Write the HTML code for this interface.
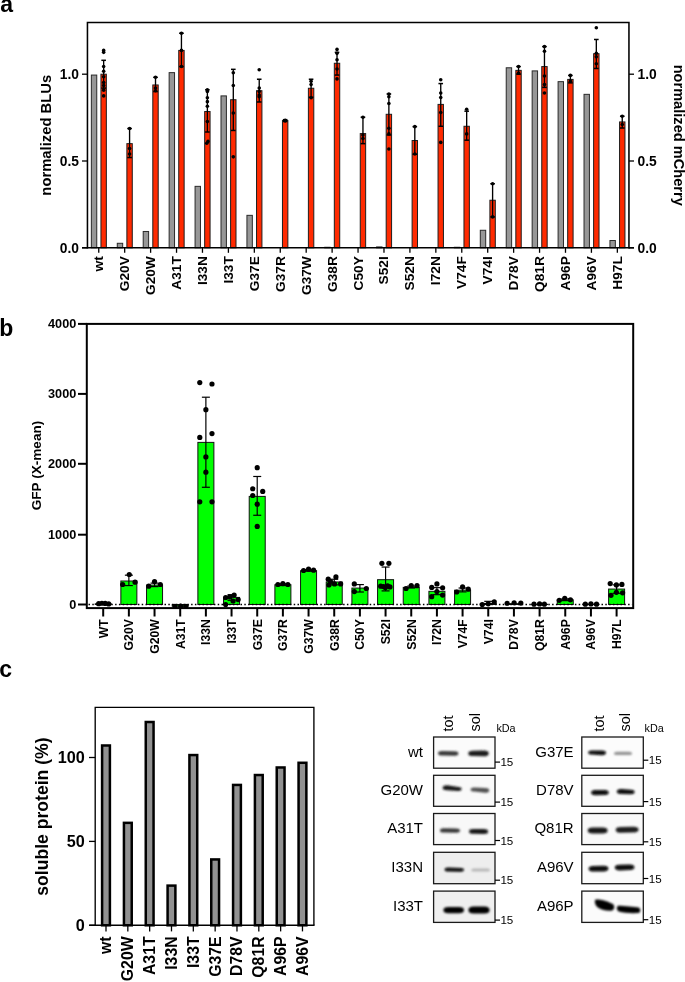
<!DOCTYPE html>
<html><head><meta charset="utf-8"><style>
html,body{margin:0;padding:0;background:#fff;overflow:hidden;}
svg{display:block;font-family:"Liberation Sans",sans-serif;will-change:transform;filter:blur(0.35px);}
</style></head><body>
<svg width="685" height="982" viewBox="0 0 685 982">
<rect x="0" y="0" width="685" height="982" fill="#fff"/>
<rect x="91.35" y="75.07" width="5.4" height="172.73" fill="#979797" stroke="#2a2a2a" stroke-width="1" />
<rect x="100.95" y="74.2" width="5.4" height="173.6" fill="#ff2a00" stroke="#1e1e1e" stroke-width="1" />
<rect x="117.28" y="243.29" width="5.4" height="4.51" fill="#979797" stroke="#2a2a2a" stroke-width="1" />
<rect x="126.88" y="143.64" width="5.4" height="104.16" fill="#ff2a00" stroke="#1e1e1e" stroke-width="1" />
<rect x="143.21" y="231.48" width="5.4" height="16.32" fill="#979797" stroke="#2a2a2a" stroke-width="1" />
<rect x="152.81" y="84.96" width="5.4" height="162.84" fill="#ff2a00" stroke="#1e1e1e" stroke-width="1" />
<rect x="169.14" y="72.64" width="5.4" height="175.16" fill="#979797" stroke="#2a2a2a" stroke-width="1" />
<rect x="178.74" y="50.42" width="5.4" height="197.38" fill="#ff2a00" stroke="#1e1e1e" stroke-width="1" />
<rect x="195.07" y="186.35" width="5.4" height="61.45" fill="#979797" stroke="#2a2a2a" stroke-width="1" />
<rect x="204.67" y="111.52" width="5.4" height="136.28" fill="#ff2a00" stroke="#1e1e1e" stroke-width="1" />
<rect x="221" y="95.9" width="5.4" height="151.9" fill="#979797" stroke="#2a2a2a" stroke-width="1" />
<rect x="230.6" y="99.72" width="5.4" height="148.08" fill="#ff2a00" stroke="#1e1e1e" stroke-width="1" />
<rect x="246.93" y="215.34" width="5.4" height="32.46" fill="#979797" stroke="#2a2a2a" stroke-width="1" />
<rect x="256.53" y="90.69" width="5.4" height="157.11" fill="#ff2a00" stroke="#1e1e1e" stroke-width="1" />
<rect x="282.46" y="120.55" width="5.4" height="127.25" fill="#ff2a00" stroke="#1e1e1e" stroke-width="1" />
<rect x="308.39" y="88.26" width="5.4" height="159.54" fill="#ff2a00" stroke="#1e1e1e" stroke-width="1" />
<rect x="324.72" y="247.28" width="5.4" height="0.52" fill="#979797" stroke="#2a2a2a" stroke-width="1" />
<rect x="334.32" y="63.26" width="5.4" height="184.54" fill="#ff2a00" stroke="#1e1e1e" stroke-width="1" />
<rect x="360.25" y="133.57" width="5.4" height="114.23" fill="#ff2a00" stroke="#1e1e1e" stroke-width="1" />
<rect x="376.58" y="246.93" width="5.4" height="0.87" fill="#979797" stroke="#2a2a2a" stroke-width="1" />
<rect x="386.18" y="114.3" width="5.4" height="133.5" fill="#ff2a00" stroke="#1e1e1e" stroke-width="1" />
<rect x="412.11" y="140.52" width="5.4" height="107.28" fill="#ff2a00" stroke="#1e1e1e" stroke-width="1" />
<rect x="438.04" y="104.41" width="5.4" height="143.39" fill="#ff2a00" stroke="#1e1e1e" stroke-width="1" />
<rect x="454.37" y="247.28" width="5.4" height="0.52" fill="#979797" stroke="#2a2a2a" stroke-width="1" />
<rect x="463.97" y="126.28" width="5.4" height="121.52" fill="#ff2a00" stroke="#1e1e1e" stroke-width="1" />
<rect x="480.3" y="230.27" width="5.4" height="17.53" fill="#979797" stroke="#2a2a2a" stroke-width="1" />
<rect x="489.9" y="200.23" width="5.4" height="47.57" fill="#ff2a00" stroke="#1e1e1e" stroke-width="1" />
<rect x="506.23" y="67.78" width="5.4" height="180.02" fill="#979797" stroke="#2a2a2a" stroke-width="1" />
<rect x="515.83" y="70.38" width="5.4" height="177.42" fill="#ff2a00" stroke="#1e1e1e" stroke-width="1" />
<rect x="532.16" y="70.9" width="5.4" height="176.9" fill="#979797" stroke="#2a2a2a" stroke-width="1" />
<rect x="541.76" y="66.56" width="5.4" height="181.24" fill="#ff2a00" stroke="#1e1e1e" stroke-width="1" />
<rect x="558.09" y="81.66" width="5.4" height="166.14" fill="#979797" stroke="#2a2a2a" stroke-width="1" />
<rect x="567.69" y="79.41" width="5.4" height="168.39" fill="#ff2a00" stroke="#1e1e1e" stroke-width="1" />
<rect x="584.02" y="94.34" width="5.4" height="153.46" fill="#979797" stroke="#2a2a2a" stroke-width="1" />
<rect x="593.62" y="53.72" width="5.4" height="194.08" fill="#ff2a00" stroke="#1e1e1e" stroke-width="1" />
<rect x="609.95" y="240.51" width="5.4" height="7.29" fill="#979797" stroke="#2a2a2a" stroke-width="1" />
<rect x="619.55" y="121.94" width="5.4" height="125.86" fill="#ff2a00" stroke="#1e1e1e" stroke-width="1" />
<line x1="103.65" y1="60.31" x2="103.65" y2="88.09" stroke="#000" stroke-width="1.35" />
<line x1="101.35" y1="60.31" x2="105.95" y2="60.31" stroke="#000" stroke-width="1.5" />
<line x1="101.35" y1="88.09" x2="105.95" y2="88.09" stroke="#000" stroke-width="1.5" />
<circle cx="103.65" cy="50.42" r="1.8" fill="#000"/>
<circle cx="103.65" cy="52.33" r="1.8" fill="#000"/>
<circle cx="103.65" cy="66.56" r="1.8" fill="#000"/>
<circle cx="103.65" cy="71.25" r="1.8" fill="#000"/>
<circle cx="103.65" cy="76.8" r="1.8" fill="#000"/>
<circle cx="103.65" cy="82.53" r="1.8" fill="#000"/>
<circle cx="103.65" cy="85.48" r="1.8" fill="#000"/>
<circle cx="103.65" cy="90.17" r="1.8" fill="#000"/>
<circle cx="103.65" cy="95.9" r="1.8" fill="#000"/>
<line x1="129.58" y1="128.54" x2="129.58" y2="157.53" stroke="#000" stroke-width="1.35" />
<line x1="127.28" y1="128.54" x2="131.88" y2="128.54" stroke="#000" stroke-width="1.5" />
<line x1="127.28" y1="157.53" x2="131.88" y2="157.53" stroke="#000" stroke-width="1.5" />
<circle cx="129.58" cy="128.54" r="1.8" fill="#000"/>
<circle cx="129.58" cy="148.5" r="1.8" fill="#000"/>
<circle cx="129.58" cy="154.06" r="1.8" fill="#000"/>
<line x1="155.51" y1="77.32" x2="155.51" y2="91.56" stroke="#000" stroke-width="1.35" />
<line x1="153.21" y1="77.32" x2="157.81" y2="77.32" stroke="#000" stroke-width="1.5" />
<line x1="153.21" y1="91.56" x2="157.81" y2="91.56" stroke="#000" stroke-width="1.5" />
<circle cx="155.51" cy="77.32" r="1.8" fill="#000"/>
<circle cx="155.51" cy="88.09" r="1.8" fill="#000"/>
<circle cx="155.51" cy="90.69" r="1.8" fill="#000"/>
<line x1="181.44" y1="33.23" x2="181.44" y2="66.56" stroke="#000" stroke-width="1.35" />
<line x1="179.14" y1="33.23" x2="183.74" y2="33.23" stroke="#000" stroke-width="1.5" />
<line x1="179.14" y1="66.56" x2="183.74" y2="66.56" stroke="#000" stroke-width="1.5" />
<circle cx="181.44" cy="33.23" r="1.8" fill="#000"/>
<circle cx="181.44" cy="50.42" r="1.8" fill="#000"/>
<circle cx="181.44" cy="66.56" r="1.8" fill="#000"/>
<line x1="207.37" y1="89.82" x2="207.37" y2="132.01" stroke="#000" stroke-width="1.35" />
<line x1="205.07" y1="89.82" x2="209.67" y2="89.82" stroke="#000" stroke-width="1.5" />
<line x1="205.07" y1="132.01" x2="209.67" y2="132.01" stroke="#000" stroke-width="1.5" />
<circle cx="207.37" cy="89.82" r="1.8" fill="#000"/>
<circle cx="207.37" cy="91.56" r="1.8" fill="#000"/>
<circle cx="207.37" cy="97.81" r="1.8" fill="#000"/>
<circle cx="207.37" cy="101.63" r="1.8" fill="#000"/>
<circle cx="207.37" cy="106.32" r="1.8" fill="#000"/>
<circle cx="207.37" cy="121.59" r="1.8" fill="#000"/>
<circle cx="207.97" cy="141.38" r="1.8" fill="#000"/>
<circle cx="206.77" cy="143.29" r="1.8" fill="#000"/>
<line x1="233.3" y1="69.34" x2="233.3" y2="130.45" stroke="#000" stroke-width="1.35" />
<line x1="231" y1="69.34" x2="235.6" y2="69.34" stroke="#000" stroke-width="1.5" />
<line x1="231" y1="130.45" x2="235.6" y2="130.45" stroke="#000" stroke-width="1.5" />
<circle cx="233.3" cy="72.81" r="1.8" fill="#000"/>
<circle cx="233.3" cy="85.48" r="1.8" fill="#000"/>
<circle cx="233.3" cy="113.09" r="1.8" fill="#000"/>
<circle cx="233.3" cy="156.83" r="1.8" fill="#000"/>
<line x1="259.23" y1="79.23" x2="259.23" y2="101.98" stroke="#000" stroke-width="1.35" />
<line x1="256.93" y1="79.23" x2="261.53" y2="79.23" stroke="#000" stroke-width="1.5" />
<line x1="256.93" y1="101.98" x2="261.53" y2="101.98" stroke="#000" stroke-width="1.5" />
<circle cx="259.23" cy="69.69" r="1.8" fill="#000"/>
<circle cx="259.23" cy="88.09" r="1.8" fill="#000"/>
<circle cx="259.23" cy="91.56" r="1.8" fill="#000"/>
<circle cx="259.23" cy="95.03" r="1.8" fill="#000"/>
<circle cx="259.23" cy="96.77" r="1.8" fill="#000"/>
<line x1="285.16" y1="119.68" x2="285.16" y2="121.42" stroke="#000" stroke-width="1.35" />
<line x1="282.86" y1="119.68" x2="287.46" y2="119.68" stroke="#000" stroke-width="1.5" />
<line x1="282.86" y1="121.42" x2="287.46" y2="121.42" stroke="#000" stroke-width="1.5" />
<circle cx="285.16" cy="120.2" r="1.8" fill="#000"/>
<circle cx="285.16" cy="121.07" r="1.8" fill="#000"/>
<line x1="311.09" y1="79.23" x2="311.09" y2="97.29" stroke="#000" stroke-width="1.35" />
<line x1="308.79" y1="79.23" x2="313.39" y2="79.23" stroke="#000" stroke-width="1.5" />
<line x1="308.79" y1="97.29" x2="313.39" y2="97.29" stroke="#000" stroke-width="1.5" />
<circle cx="311.09" cy="81.14" r="1.8" fill="#000"/>
<circle cx="311.09" cy="84.62" r="1.8" fill="#000"/>
<circle cx="311.09" cy="97.81" r="1.8" fill="#000"/>
<line x1="337.02" y1="52.33" x2="337.02" y2="75.07" stroke="#000" stroke-width="1.35" />
<line x1="334.72" y1="52.33" x2="339.32" y2="52.33" stroke="#000" stroke-width="1.5" />
<line x1="334.72" y1="75.07" x2="339.32" y2="75.07" stroke="#000" stroke-width="1.5" />
<circle cx="337.02" cy="49.38" r="1.8" fill="#000"/>
<circle cx="337.02" cy="53.37" r="1.8" fill="#000"/>
<circle cx="337.02" cy="59.79" r="1.8" fill="#000"/>
<circle cx="337.02" cy="68.99" r="1.8" fill="#000"/>
<circle cx="337.02" cy="78.89" r="1.8" fill="#000"/>
<line x1="362.95" y1="117.25" x2="362.95" y2="143.64" stroke="#000" stroke-width="1.35" />
<line x1="360.65" y1="117.25" x2="365.25" y2="117.25" stroke="#000" stroke-width="1.5" />
<line x1="360.65" y1="143.64" x2="365.25" y2="143.64" stroke="#000" stroke-width="1.5" />
<circle cx="362.95" cy="117.25" r="1.8" fill="#000"/>
<circle cx="362.95" cy="134.96" r="1.8" fill="#000"/>
<circle cx="362.95" cy="138.43" r="1.8" fill="#000"/>
<line x1="388.88" y1="93.99" x2="388.88" y2="134.96" stroke="#000" stroke-width="1.35" />
<line x1="386.58" y1="93.99" x2="391.18" y2="93.99" stroke="#000" stroke-width="1.5" />
<line x1="386.58" y1="134.96" x2="391.18" y2="134.96" stroke="#000" stroke-width="1.5" />
<circle cx="388.88" cy="93.99" r="1.8" fill="#000"/>
<circle cx="388.88" cy="96.77" r="1.8" fill="#000"/>
<circle cx="388.88" cy="103.54" r="1.8" fill="#000"/>
<circle cx="388.88" cy="128.19" r="1.8" fill="#000"/>
<circle cx="388.88" cy="133.92" r="1.8" fill="#000"/>
<circle cx="388.88" cy="149.02" r="1.8" fill="#000"/>
<line x1="414.81" y1="126.63" x2="414.81" y2="154.23" stroke="#000" stroke-width="1.35" />
<line x1="412.51" y1="126.63" x2="417.11" y2="126.63" stroke="#000" stroke-width="1.5" />
<line x1="412.51" y1="154.23" x2="417.11" y2="154.23" stroke="#000" stroke-width="1.5" />
<circle cx="414.81" cy="126.63" r="1.8" fill="#000"/>
<circle cx="414.81" cy="154.06" r="1.8" fill="#000"/>
<line x1="440.74" y1="83.57" x2="440.74" y2="126.28" stroke="#000" stroke-width="1.35" />
<line x1="438.44" y1="83.57" x2="443.04" y2="83.57" stroke="#000" stroke-width="1.5" />
<line x1="438.44" y1="126.28" x2="443.04" y2="126.28" stroke="#000" stroke-width="1.5" />
<circle cx="440.74" cy="79.76" r="1.8" fill="#000"/>
<circle cx="440.74" cy="92.95" r="1.8" fill="#000"/>
<circle cx="440.74" cy="97.46" r="1.8" fill="#000"/>
<circle cx="440.74" cy="112.57" r="1.8" fill="#000"/>
<circle cx="440.74" cy="142.42" r="1.8" fill="#000"/>
<line x1="466.67" y1="111.18" x2="466.67" y2="140.17" stroke="#000" stroke-width="1.35" />
<line x1="464.37" y1="111.18" x2="468.97" y2="111.18" stroke="#000" stroke-width="1.5" />
<line x1="464.37" y1="140.17" x2="468.97" y2="140.17" stroke="#000" stroke-width="1.5" />
<circle cx="466.67" cy="109.27" r="1.8" fill="#000"/>
<circle cx="466.67" cy="133.92" r="1.8" fill="#000"/>
<line x1="492.6" y1="183.74" x2="492.6" y2="216.9" stroke="#000" stroke-width="1.35" />
<line x1="490.3" y1="183.74" x2="494.9" y2="183.74" stroke="#000" stroke-width="1.5" />
<line x1="490.3" y1="216.9" x2="494.9" y2="216.9" stroke="#000" stroke-width="1.5" />
<circle cx="492.6" cy="183.74" r="1.8" fill="#000"/>
<circle cx="492.6" cy="216.9" r="1.8" fill="#000"/>
<line x1="518.53" y1="66.56" x2="518.53" y2="74.2" stroke="#000" stroke-width="1.35" />
<line x1="516.23" y1="66.56" x2="520.83" y2="66.56" stroke="#000" stroke-width="1.5" />
<line x1="516.23" y1="74.2" x2="520.83" y2="74.2" stroke="#000" stroke-width="1.5" />
<circle cx="518.53" cy="66.56" r="1.8" fill="#000"/>
<circle cx="518.53" cy="73.16" r="1.8" fill="#000"/>
<line x1="544.46" y1="46.6" x2="544.46" y2="87.39" stroke="#000" stroke-width="1.35" />
<line x1="542.16" y1="46.6" x2="546.76" y2="46.6" stroke="#000" stroke-width="1.5" />
<line x1="542.16" y1="87.39" x2="546.76" y2="87.39" stroke="#000" stroke-width="1.5" />
<circle cx="544.46" cy="46.6" r="1.8" fill="#000"/>
<circle cx="544.46" cy="51.28" r="1.8" fill="#000"/>
<circle cx="544.46" cy="75.94" r="1.8" fill="#000"/>
<circle cx="544.46" cy="84.62" r="1.8" fill="#000"/>
<circle cx="544.46" cy="92.95" r="1.8" fill="#000"/>
<line x1="570.39" y1="75.42" x2="570.39" y2="82.88" stroke="#000" stroke-width="1.35" />
<line x1="568.09" y1="75.42" x2="572.69" y2="75.42" stroke="#000" stroke-width="1.5" />
<line x1="568.09" y1="82.88" x2="572.69" y2="82.88" stroke="#000" stroke-width="1.5" />
<circle cx="570.39" cy="75.42" r="1.8" fill="#000"/>
<circle cx="570.39" cy="81.14" r="1.8" fill="#000"/>
<line x1="596.32" y1="39.48" x2="596.32" y2="68.47" stroke="#000" stroke-width="1.35" />
<line x1="594.02" y1="39.48" x2="598.62" y2="39.48" stroke="#000" stroke-width="1.5" />
<line x1="594.02" y1="68.47" x2="598.62" y2="68.47" stroke="#000" stroke-width="1.5" />
<circle cx="596.32" cy="27.68" r="1.8" fill="#000"/>
<circle cx="596.32" cy="53.37" r="1.8" fill="#000"/>
<circle cx="596.32" cy="56.84" r="1.8" fill="#000"/>
<circle cx="596.32" cy="63.78" r="1.8" fill="#000"/>
<line x1="622.25" y1="116.21" x2="622.25" y2="128.02" stroke="#000" stroke-width="1.35" />
<line x1="619.95" y1="116.21" x2="624.55" y2="116.21" stroke="#000" stroke-width="1.5" />
<line x1="619.95" y1="128.02" x2="624.55" y2="128.02" stroke="#000" stroke-width="1.5" />
<circle cx="622.25" cy="116.21" r="1.8" fill="#000"/>
<circle cx="622.25" cy="124.54" r="1.8" fill="#000"/>
<path d="M87.45,248.5 V22.5 H628.95 V248.5" fill="none" stroke="#000" stroke-width="1.55" stroke-linejoin="miter"/>
<line x1="82" y1="247.75" x2="634" y2="247.75" stroke="#000" stroke-width="1.6" />
<line x1="82" y1="74.2" x2="87.5" y2="74.2" stroke="#000" stroke-width="1.3" />
<line x1="629" y1="74.2" x2="634" y2="74.2" stroke="#000" stroke-width="1.3" />
<text x="79" y="79.1" font-size="13.8" font-weight="bold" text-anchor="end" >1.0</text>
<text x="637.5" y="79.1" font-size="13.8" font-weight="bold" text-anchor="start" >1.0</text>
<line x1="82" y1="161" x2="87.5" y2="161" stroke="#000" stroke-width="1.3" />
<line x1="629" y1="161" x2="634" y2="161" stroke="#000" stroke-width="1.3" />
<text x="79" y="165.9" font-size="13.8" font-weight="bold" text-anchor="end" >0.5</text>
<text x="637.5" y="165.9" font-size="13.8" font-weight="bold" text-anchor="start" >0.5</text>
<line x1="82" y1="247.8" x2="87.5" y2="247.8" stroke="#000" stroke-width="1.3" />
<line x1="629" y1="247.8" x2="634" y2="247.8" stroke="#000" stroke-width="1.3" />
<text x="79" y="252.7" font-size="13.8" font-weight="bold" text-anchor="end" >0.0</text>
<text x="637.5" y="252.7" font-size="13.8" font-weight="bold" text-anchor="start" >0.0</text>
<line x1="98.75" y1="247.8" x2="98.75" y2="252.8" stroke="#000" stroke-width="1.3" />
<text x="103.25" y="256.2" font-size="13.7" font-weight="bold" text-anchor="end" transform="rotate(-90 103.25 256.2)" >wt</text>
<line x1="124.68" y1="247.8" x2="124.68" y2="252.8" stroke="#000" stroke-width="1.3" />
<text x="129.18" y="256.2" font-size="13.7" font-weight="bold" text-anchor="end" transform="rotate(-90 129.18 256.2)" >G20V</text>
<line x1="150.61" y1="247.8" x2="150.61" y2="252.8" stroke="#000" stroke-width="1.3" />
<text x="155.11" y="256.2" font-size="13.7" font-weight="bold" text-anchor="end" transform="rotate(-90 155.11 256.2)" >G20W</text>
<line x1="176.54" y1="247.8" x2="176.54" y2="252.8" stroke="#000" stroke-width="1.3" />
<text x="181.04" y="256.2" font-size="13.7" font-weight="bold" text-anchor="end" transform="rotate(-90 181.04 256.2)" >A31T</text>
<line x1="202.47" y1="247.8" x2="202.47" y2="252.8" stroke="#000" stroke-width="1.3" />
<text x="206.97" y="256.2" font-size="13.7" font-weight="bold" text-anchor="end" transform="rotate(-90 206.97 256.2)" >I33N</text>
<line x1="228.4" y1="247.8" x2="228.4" y2="252.8" stroke="#000" stroke-width="1.3" />
<text x="232.9" y="256.2" font-size="13.7" font-weight="bold" text-anchor="end" transform="rotate(-90 232.9 256.2)" >I33T</text>
<line x1="254.33" y1="247.8" x2="254.33" y2="252.8" stroke="#000" stroke-width="1.3" />
<text x="258.83" y="256.2" font-size="13.7" font-weight="bold" text-anchor="end" transform="rotate(-90 258.83 256.2)" >G37E</text>
<line x1="280.26" y1="247.8" x2="280.26" y2="252.8" stroke="#000" stroke-width="1.3" />
<text x="284.76" y="256.2" font-size="13.7" font-weight="bold" text-anchor="end" transform="rotate(-90 284.76 256.2)" >G37R</text>
<line x1="306.19" y1="247.8" x2="306.19" y2="252.8" stroke="#000" stroke-width="1.3" />
<text x="310.69" y="256.2" font-size="13.7" font-weight="bold" text-anchor="end" transform="rotate(-90 310.69 256.2)" >G37W</text>
<line x1="332.12" y1="247.8" x2="332.12" y2="252.8" stroke="#000" stroke-width="1.3" />
<text x="336.62" y="256.2" font-size="13.7" font-weight="bold" text-anchor="end" transform="rotate(-90 336.62 256.2)" >G38R</text>
<line x1="358.05" y1="247.8" x2="358.05" y2="252.8" stroke="#000" stroke-width="1.3" />
<text x="362.55" y="256.2" font-size="13.7" font-weight="bold" text-anchor="end" transform="rotate(-90 362.55 256.2)" >C50Y</text>
<line x1="383.98" y1="247.8" x2="383.98" y2="252.8" stroke="#000" stroke-width="1.3" />
<text x="388.48" y="256.2" font-size="13.7" font-weight="bold" text-anchor="end" transform="rotate(-90 388.48 256.2)" >S52I</text>
<line x1="409.91" y1="247.8" x2="409.91" y2="252.8" stroke="#000" stroke-width="1.3" />
<text x="414.41" y="256.2" font-size="13.7" font-weight="bold" text-anchor="end" transform="rotate(-90 414.41 256.2)" >S52N</text>
<line x1="435.84" y1="247.8" x2="435.84" y2="252.8" stroke="#000" stroke-width="1.3" />
<text x="440.34" y="256.2" font-size="13.7" font-weight="bold" text-anchor="end" transform="rotate(-90 440.34 256.2)" >I72N</text>
<line x1="461.77" y1="247.8" x2="461.77" y2="252.8" stroke="#000" stroke-width="1.3" />
<text x="466.27" y="256.2" font-size="13.7" font-weight="bold" text-anchor="end" transform="rotate(-90 466.27 256.2)" >V74F</text>
<line x1="487.7" y1="247.8" x2="487.7" y2="252.8" stroke="#000" stroke-width="1.3" />
<text x="492.2" y="256.2" font-size="13.7" font-weight="bold" text-anchor="end" transform="rotate(-90 492.2 256.2)" >V74I</text>
<line x1="513.63" y1="247.8" x2="513.63" y2="252.8" stroke="#000" stroke-width="1.3" />
<text x="518.13" y="256.2" font-size="13.7" font-weight="bold" text-anchor="end" transform="rotate(-90 518.13 256.2)" >D78V</text>
<line x1="539.56" y1="247.8" x2="539.56" y2="252.8" stroke="#000" stroke-width="1.3" />
<text x="544.06" y="256.2" font-size="13.7" font-weight="bold" text-anchor="end" transform="rotate(-90 544.06 256.2)" >Q81R</text>
<line x1="565.49" y1="247.8" x2="565.49" y2="252.8" stroke="#000" stroke-width="1.3" />
<text x="569.99" y="256.2" font-size="13.7" font-weight="bold" text-anchor="end" transform="rotate(-90 569.99 256.2)" >A96P</text>
<line x1="591.42" y1="247.8" x2="591.42" y2="252.8" stroke="#000" stroke-width="1.3" />
<text x="595.92" y="256.2" font-size="13.7" font-weight="bold" text-anchor="end" transform="rotate(-90 595.92 256.2)" >A96V</text>
<line x1="617.35" y1="247.8" x2="617.35" y2="252.8" stroke="#000" stroke-width="1.3" />
<text x="621.85" y="256.2" font-size="13.7" font-weight="bold" text-anchor="end" transform="rotate(-90 621.85 256.2)" >H97L</text>
<text x="51.2" y="135.2" font-size="14.8" font-weight="bold" text-anchor="middle" transform="rotate(-90 51.2 135.2)" >normalized BLUs</text>
<text x="673.6" y="135.2" font-size="14.6" font-weight="bold" text-anchor="middle" transform="rotate(90 673.6 135.2)" >normalized mCherry</text>
<rect x="95.2" y="603.8" width="16" height="0.7" fill="#00ff00" stroke="#111" stroke-width="1" />
<rect x="120.87" y="581" width="16" height="23.5" fill="#00ff00" stroke="#111" stroke-width="1" />
<rect x="146.54" y="585.07" width="16" height="19.43" fill="#00ff00" stroke="#111" stroke-width="1" />
<rect x="172.21" y="604.5" width="16" height="1.54" fill="#00ff00" stroke="#111" stroke-width="1" />
<rect x="197.88" y="442.38" width="16" height="162.12" fill="#00ff00" stroke="#111" stroke-width="1" />
<rect x="223.55" y="597.41" width="16" height="7.09" fill="#00ff00" stroke="#111" stroke-width="1" />
<rect x="249.22" y="496.4" width="16" height="108.1" fill="#00ff00" stroke="#111" stroke-width="1" />
<rect x="274.89" y="584.72" width="16" height="19.78" fill="#00ff00" stroke="#111" stroke-width="1" />
<rect x="300.56" y="570.69" width="16" height="33.81" fill="#00ff00" stroke="#111" stroke-width="1" />
<rect x="326.23" y="581.98" width="16" height="22.52" fill="#00ff00" stroke="#111" stroke-width="1" />
<rect x="351.9" y="588.08" width="16" height="16.42" fill="#00ff00" stroke="#111" stroke-width="1" />
<rect x="377.57" y="579.67" width="16" height="24.83" fill="#00ff00" stroke="#111" stroke-width="1" />
<rect x="403.24" y="587.38" width="16" height="17.12" fill="#00ff00" stroke="#111" stroke-width="1" />
<rect x="428.91" y="591.31" width="16" height="13.19" fill="#00ff00" stroke="#111" stroke-width="1" />
<rect x="454.58" y="590.19" width="16" height="14.31" fill="#00ff00" stroke="#111" stroke-width="1" />
<rect x="480.25" y="603.45" width="16" height="1.05" fill="#00ff00" stroke="#111" stroke-width="1" />
<rect x="505.92" y="603.66" width="16" height="0.84" fill="#00ff00" stroke="#111" stroke-width="1" />
<rect x="531.59" y="604.29" width="16" height="0.21" fill="#00ff00" stroke="#111" stroke-width="1" />
<rect x="557.26" y="599.8" width="16" height="4.7" fill="#00ff00" stroke="#111" stroke-width="1" />
<rect x="582.93" y="604.15" width="16" height="0.35" fill="#00ff00" stroke="#111" stroke-width="1" />
<rect x="608.6" y="589.07" width="16" height="15.43" fill="#00ff00" stroke="#111" stroke-width="1" />
<line x1="88.5" y1="604.6" x2="632.2" y2="604.6" stroke="#000" stroke-width="1.5" stroke-dasharray="1.5 2.3"/>
<circle cx="98.7" cy="603.66" r="2.6" fill="#000"/>
<circle cx="101.9" cy="603.24" r="2.6" fill="#000"/>
<circle cx="105.2" cy="603.45" r="2.6" fill="#000"/>
<circle cx="108.7" cy="603.94" r="2.6" fill="#000"/>
<line x1="128.87" y1="575.18" x2="128.87" y2="585.56" stroke="#000" stroke-width="1.2" />
<line x1="124.87" y1="575.18" x2="132.87" y2="575.18" stroke="#000" stroke-width="1.2" />
<line x1="124.87" y1="585.56" x2="132.87" y2="585.56" stroke="#000" stroke-width="1.2" />
<circle cx="129.27" cy="574.48" r="2.6" fill="#000"/>
<circle cx="122.67" cy="584.51" r="2.6" fill="#000"/>
<circle cx="135.07" cy="582.19" r="2.6" fill="#000"/>
<line x1="154.54" y1="583.1" x2="154.54" y2="586.61" stroke="#000" stroke-width="1.2" />
<line x1="150.54" y1="583.1" x2="158.54" y2="583.1" stroke="#000" stroke-width="1.2" />
<line x1="150.54" y1="586.61" x2="158.54" y2="586.61" stroke="#000" stroke-width="1.2" />
<circle cx="154.54" cy="581.49" r="2.6" fill="#000"/>
<circle cx="148.74" cy="586.19" r="2.6" fill="#000"/>
<circle cx="160.34" cy="584.51" r="2.6" fill="#000"/>
<circle cx="175.01" cy="606.32" r="2.6" fill="#000"/>
<circle cx="180.71" cy="606.18" r="2.6" fill="#000"/>
<circle cx="185.81" cy="606.32" r="2.6" fill="#000"/>
<line x1="205.88" y1="397.21" x2="205.88" y2="487.28" stroke="#000" stroke-width="1.2" />
<line x1="201.88" y1="397.21" x2="209.88" y2="397.21" stroke="#000" stroke-width="1.2" />
<line x1="201.88" y1="487.28" x2="209.88" y2="487.28" stroke="#000" stroke-width="1.2" />
<circle cx="199.78" cy="382.62" r="2.6" fill="#000"/>
<circle cx="211.98" cy="384.02" r="2.6" fill="#000"/>
<circle cx="205.88" cy="409.69" r="2.6" fill="#000"/>
<circle cx="199.78" cy="437.4" r="2.6" fill="#000"/>
<circle cx="211.98" cy="433.61" r="2.6" fill="#000"/>
<circle cx="205.88" cy="456.9" r="2.6" fill="#000"/>
<circle cx="205.88" cy="472.13" r="2.6" fill="#000"/>
<circle cx="199.78" cy="501.87" r="2.6" fill="#000"/>
<circle cx="211.98" cy="501.87" r="2.6" fill="#000"/>
<line x1="231.55" y1="594.68" x2="231.55" y2="600.29" stroke="#000" stroke-width="1.2" />
<line x1="227.55" y1="594.68" x2="235.55" y2="594.68" stroke="#000" stroke-width="1.2" />
<line x1="227.55" y1="600.29" x2="235.55" y2="600.29" stroke="#000" stroke-width="1.2" />
<circle cx="234.15" cy="595.03" r="2.6" fill="#000"/>
<circle cx="225.65" cy="597.49" r="2.6" fill="#000"/>
<circle cx="229.75" cy="596.78" r="2.6" fill="#000"/>
<circle cx="238.15" cy="599.59" r="2.6" fill="#000"/>
<circle cx="225.65" cy="604.5" r="2.6" fill="#000"/>
<circle cx="233.05" cy="600.99" r="2.6" fill="#000"/>
<line x1="257.22" y1="476.48" x2="257.22" y2="515.27" stroke="#000" stroke-width="1.2" />
<line x1="253.22" y1="476.48" x2="261.22" y2="476.48" stroke="#000" stroke-width="1.2" />
<line x1="253.22" y1="515.27" x2="261.22" y2="515.27" stroke="#000" stroke-width="1.2" />
<circle cx="257.22" cy="467.71" r="2.6" fill="#000"/>
<circle cx="252.72" cy="488.75" r="2.6" fill="#000"/>
<circle cx="262.72" cy="491.42" r="2.6" fill="#000"/>
<circle cx="252.72" cy="495.49" r="2.6" fill="#000"/>
<circle cx="257.22" cy="504.19" r="2.6" fill="#000"/>
<circle cx="257.22" cy="526.42" r="2.6" fill="#000"/>
<line x1="282.89" y1="583.81" x2="282.89" y2="585.56" stroke="#000" stroke-width="1.2" />
<line x1="278.89" y1="583.81" x2="286.89" y2="583.81" stroke="#000" stroke-width="1.2" />
<line x1="278.89" y1="585.56" x2="286.89" y2="585.56" stroke="#000" stroke-width="1.2" />
<circle cx="277.89" cy="584.51" r="2.6" fill="#000"/>
<circle cx="282.89" cy="583.6" r="2.6" fill="#000"/>
<circle cx="287.89" cy="584.51" r="2.6" fill="#000"/>
<line x1="308.56" y1="569.78" x2="308.56" y2="571.18" stroke="#000" stroke-width="1.2" />
<line x1="304.56" y1="569.78" x2="312.56" y2="569.78" stroke="#000" stroke-width="1.2" />
<line x1="304.56" y1="571.18" x2="312.56" y2="571.18" stroke="#000" stroke-width="1.2" />
<circle cx="303.56" cy="570.48" r="2.6" fill="#000"/>
<circle cx="308.56" cy="569.21" r="2.6" fill="#000"/>
<circle cx="313.56" cy="570.13" r="2.6" fill="#000"/>
<line x1="334.23" y1="579.25" x2="334.23" y2="584.86" stroke="#000" stroke-width="1.2" />
<line x1="330.23" y1="579.25" x2="338.23" y2="579.25" stroke="#000" stroke-width="1.2" />
<line x1="330.23" y1="584.86" x2="338.23" y2="584.86" stroke="#000" stroke-width="1.2" />
<circle cx="328.23" cy="579.18" r="2.6" fill="#000"/>
<circle cx="335.93" cy="576.93" r="2.6" fill="#000"/>
<circle cx="330.53" cy="581.49" r="2.6" fill="#000"/>
<circle cx="328.93" cy="585" r="2.6" fill="#000"/>
<circle cx="334.53" cy="583.88" r="2.6" fill="#000"/>
<circle cx="340.63" cy="583.88" r="2.6" fill="#000"/>
<line x1="359.9" y1="584.58" x2="359.9" y2="592.01" stroke="#000" stroke-width="1.2" />
<line x1="355.9" y1="584.58" x2="363.9" y2="584.58" stroke="#000" stroke-width="1.2" />
<line x1="355.9" y1="592.01" x2="363.9" y2="592.01" stroke="#000" stroke-width="1.2" />
<circle cx="354.3" cy="583.88" r="2.6" fill="#000"/>
<circle cx="366.3" cy="588.51" r="2.6" fill="#000"/>
<circle cx="354.3" cy="591.59" r="2.6" fill="#000"/>
<line x1="385.57" y1="567.04" x2="385.57" y2="590.89" stroke="#000" stroke-width="1.2" />
<line x1="381.57" y1="567.04" x2="389.57" y2="567.04" stroke="#000" stroke-width="1.2" />
<line x1="381.57" y1="590.89" x2="389.57" y2="590.89" stroke="#000" stroke-width="1.2" />
<circle cx="381.87" cy="563.32" r="2.6" fill="#000"/>
<circle cx="388.87" cy="563.32" r="2.6" fill="#000"/>
<circle cx="380.67" cy="586.19" r="2.6" fill="#000"/>
<circle cx="385.37" cy="587.38" r="2.6" fill="#000"/>
<circle cx="389.97" cy="586.89" r="2.6" fill="#000"/>
<circle cx="387.57" cy="585.91" r="2.6" fill="#000"/>
<circle cx="383.57" cy="586.61" r="2.6" fill="#000"/>
<line x1="411.24" y1="586.12" x2="411.24" y2="588.01" stroke="#000" stroke-width="1.2" />
<line x1="407.24" y1="586.12" x2="415.24" y2="586.12" stroke="#000" stroke-width="1.2" />
<line x1="407.24" y1="588.01" x2="415.24" y2="588.01" stroke="#000" stroke-width="1.2" />
<circle cx="406.04" cy="588.51" r="2.6" fill="#000"/>
<circle cx="411.24" cy="585.49" r="2.6" fill="#000"/>
<circle cx="417.04" cy="585.7" r="2.6" fill="#000"/>
<line x1="436.91" y1="587.66" x2="436.91" y2="594.68" stroke="#000" stroke-width="1.2" />
<line x1="432.91" y1="587.66" x2="440.91" y2="587.66" stroke="#000" stroke-width="1.2" />
<line x1="432.91" y1="594.68" x2="440.91" y2="594.68" stroke="#000" stroke-width="1.2" />
<circle cx="436.91" cy="583.88" r="2.6" fill="#000"/>
<circle cx="431.71" cy="587.38" r="2.6" fill="#000"/>
<circle cx="442.61" cy="587.8" r="2.6" fill="#000"/>
<circle cx="436.91" cy="591.59" r="2.6" fill="#000"/>
<circle cx="431.71" cy="596.71" r="2.6" fill="#000"/>
<circle cx="442.61" cy="595.1" r="2.6" fill="#000"/>
<line x1="462.58" y1="588.01" x2="462.58" y2="591.87" stroke="#000" stroke-width="1.2" />
<line x1="458.58" y1="588.01" x2="466.58" y2="588.01" stroke="#000" stroke-width="1.2" />
<line x1="458.58" y1="591.87" x2="466.58" y2="591.87" stroke="#000" stroke-width="1.2" />
<circle cx="462.58" cy="586.89" r="2.6" fill="#000"/>
<circle cx="456.68" cy="592.01" r="2.6" fill="#000"/>
<circle cx="468.28" cy="589.21" r="2.6" fill="#000"/>
<line x1="488.25" y1="601.34" x2="488.25" y2="603.8" stroke="#000" stroke-width="1.2" />
<line x1="484.25" y1="601.34" x2="492.25" y2="601.34" stroke="#000" stroke-width="1.2" />
<line x1="484.25" y1="603.8" x2="492.25" y2="603.8" stroke="#000" stroke-width="1.2" />
<circle cx="482.25" cy="604.5" r="2.6" fill="#000"/>
<circle cx="494.25" cy="601.83" r="2.6" fill="#000"/>
<circle cx="488.25" cy="603.8" r="2.6" fill="#000"/>
<circle cx="507.12" cy="603.24" r="2.6" fill="#000"/>
<circle cx="514.12" cy="602.75" r="2.6" fill="#000"/>
<circle cx="520.82" cy="603.1" r="2.6" fill="#000"/>
<circle cx="533.99" cy="604.22" r="2.6" fill="#000"/>
<circle cx="539.59" cy="603.94" r="2.6" fill="#000"/>
<circle cx="544.39" cy="604.22" r="2.6" fill="#000"/>
<line x1="565.26" y1="598.89" x2="565.26" y2="600.64" stroke="#000" stroke-width="1.2" />
<line x1="561.26" y1="598.89" x2="569.26" y2="598.89" stroke="#000" stroke-width="1.2" />
<line x1="561.26" y1="600.64" x2="569.26" y2="600.64" stroke="#000" stroke-width="1.2" />
<circle cx="559.26" cy="600.29" r="2.6" fill="#000"/>
<circle cx="564.76" cy="598.47" r="2.6" fill="#000"/>
<circle cx="570.46" cy="599.8" r="2.6" fill="#000"/>
<circle cx="585.33" cy="604.15" r="2.6" fill="#000"/>
<circle cx="590.93" cy="603.94" r="2.6" fill="#000"/>
<circle cx="596.53" cy="604.22" r="2.6" fill="#000"/>
<line x1="616.6" y1="584.86" x2="616.6" y2="593.28" stroke="#000" stroke-width="1.2" />
<line x1="612.6" y1="584.86" x2="620.6" y2="584.86" stroke="#000" stroke-width="1.2" />
<line x1="612.6" y1="593.28" x2="620.6" y2="593.28" stroke="#000" stroke-width="1.2" />
<circle cx="610.2" cy="583.6" r="2.6" fill="#000"/>
<circle cx="616.4" cy="584.93" r="2.6" fill="#000"/>
<circle cx="621.9" cy="584.44" r="2.6" fill="#000"/>
<circle cx="611" cy="595.31" r="2.6" fill="#000"/>
<circle cx="616.4" cy="592.29" r="2.6" fill="#000"/>
<circle cx="622.6" cy="592.78" r="2.6" fill="#000"/>
<rect x="86.8" y="323.9" width="546.4" height="284.2" fill="none" stroke="#000" stroke-width="2"/>
<line x1="78" y1="323.9" x2="86.8" y2="323.9" stroke="#000" stroke-width="2" />
<text x="76.3" y="328.35" font-size="12.7" font-weight="bold" text-anchor="end" >4000</text>
<line x1="78" y1="393.9" x2="86.8" y2="393.9" stroke="#000" stroke-width="2" />
<text x="76.3" y="398.35" font-size="12.7" font-weight="bold" text-anchor="end" >3000</text>
<line x1="78" y1="463.8" x2="86.8" y2="463.8" stroke="#000" stroke-width="2" />
<text x="76.3" y="468.25" font-size="12.7" font-weight="bold" text-anchor="end" >2000</text>
<line x1="78" y1="534.7" x2="86.8" y2="534.7" stroke="#000" stroke-width="2" />
<text x="76.3" y="539.15" font-size="12.7" font-weight="bold" text-anchor="end" >1000</text>
<line x1="78" y1="604.5" x2="86.8" y2="604.5" stroke="#000" stroke-width="2" />
<text x="76.3" y="608.95" font-size="12.7" font-weight="bold" text-anchor="end" >0</text>
<line x1="103.2" y1="608" x2="103.2" y2="616.5" stroke="#000" stroke-width="2" />
<text x="107.7" y="619.2" font-size="12.2" font-weight="bold" text-anchor="end" transform="rotate(-90 107.7 619.2)" >WT</text>
<line x1="128.87" y1="608" x2="128.87" y2="616.5" stroke="#000" stroke-width="2" />
<text x="133.37" y="619.2" font-size="12.2" font-weight="bold" text-anchor="end" transform="rotate(-90 133.37 619.2)" >G20V</text>
<line x1="154.54" y1="608" x2="154.54" y2="616.5" stroke="#000" stroke-width="2" />
<text x="159.04" y="619.2" font-size="12.2" font-weight="bold" text-anchor="end" transform="rotate(-90 159.04 619.2)" >G20W</text>
<line x1="180.21" y1="608" x2="180.21" y2="616.5" stroke="#000" stroke-width="2" />
<text x="184.71" y="619.2" font-size="12.2" font-weight="bold" text-anchor="end" transform="rotate(-90 184.71 619.2)" >A31T</text>
<line x1="205.88" y1="608" x2="205.88" y2="616.5" stroke="#000" stroke-width="2" />
<text x="210.38" y="619.2" font-size="12.2" font-weight="bold" text-anchor="end" transform="rotate(-90 210.38 619.2)" >I33N</text>
<line x1="231.55" y1="608" x2="231.55" y2="616.5" stroke="#000" stroke-width="2" />
<text x="236.05" y="619.2" font-size="12.2" font-weight="bold" text-anchor="end" transform="rotate(-90 236.05 619.2)" >I33T</text>
<line x1="257.22" y1="608" x2="257.22" y2="616.5" stroke="#000" stroke-width="2" />
<text x="261.72" y="619.2" font-size="12.2" font-weight="bold" text-anchor="end" transform="rotate(-90 261.72 619.2)" >G37E</text>
<line x1="282.89" y1="608" x2="282.89" y2="616.5" stroke="#000" stroke-width="2" />
<text x="287.39" y="619.2" font-size="12.2" font-weight="bold" text-anchor="end" transform="rotate(-90 287.39 619.2)" >G37R</text>
<line x1="308.56" y1="608" x2="308.56" y2="616.5" stroke="#000" stroke-width="2" />
<text x="313.06" y="619.2" font-size="12.2" font-weight="bold" text-anchor="end" transform="rotate(-90 313.06 619.2)" >G37W</text>
<line x1="334.23" y1="608" x2="334.23" y2="616.5" stroke="#000" stroke-width="2" />
<text x="338.73" y="619.2" font-size="12.2" font-weight="bold" text-anchor="end" transform="rotate(-90 338.73 619.2)" >G38R</text>
<line x1="359.9" y1="608" x2="359.9" y2="616.5" stroke="#000" stroke-width="2" />
<text x="364.4" y="619.2" font-size="12.2" font-weight="bold" text-anchor="end" transform="rotate(-90 364.4 619.2)" >C50Y</text>
<line x1="385.57" y1="608" x2="385.57" y2="616.5" stroke="#000" stroke-width="2" />
<text x="390.07" y="619.2" font-size="12.2" font-weight="bold" text-anchor="end" transform="rotate(-90 390.07 619.2)" >S52I</text>
<line x1="411.24" y1="608" x2="411.24" y2="616.5" stroke="#000" stroke-width="2" />
<text x="415.74" y="619.2" font-size="12.2" font-weight="bold" text-anchor="end" transform="rotate(-90 415.74 619.2)" >S52N</text>
<line x1="436.91" y1="608" x2="436.91" y2="616.5" stroke="#000" stroke-width="2" />
<text x="441.41" y="619.2" font-size="12.2" font-weight="bold" text-anchor="end" transform="rotate(-90 441.41 619.2)" >I72N</text>
<line x1="462.58" y1="608" x2="462.58" y2="616.5" stroke="#000" stroke-width="2" />
<text x="467.08" y="619.2" font-size="12.2" font-weight="bold" text-anchor="end" transform="rotate(-90 467.08 619.2)" >V74F</text>
<line x1="488.25" y1="608" x2="488.25" y2="616.5" stroke="#000" stroke-width="2" />
<text x="492.75" y="619.2" font-size="12.2" font-weight="bold" text-anchor="end" transform="rotate(-90 492.75 619.2)" >V74I</text>
<line x1="513.92" y1="608" x2="513.92" y2="616.5" stroke="#000" stroke-width="2" />
<text x="518.42" y="619.2" font-size="12.2" font-weight="bold" text-anchor="end" transform="rotate(-90 518.42 619.2)" >D78V</text>
<line x1="539.59" y1="608" x2="539.59" y2="616.5" stroke="#000" stroke-width="2" />
<text x="544.09" y="619.2" font-size="12.2" font-weight="bold" text-anchor="end" transform="rotate(-90 544.09 619.2)" >Q81R</text>
<line x1="565.26" y1="608" x2="565.26" y2="616.5" stroke="#000" stroke-width="2" />
<text x="569.76" y="619.2" font-size="12.2" font-weight="bold" text-anchor="end" transform="rotate(-90 569.76 619.2)" >A96P</text>
<line x1="590.93" y1="608" x2="590.93" y2="616.5" stroke="#000" stroke-width="2" />
<text x="595.43" y="619.2" font-size="12.2" font-weight="bold" text-anchor="end" transform="rotate(-90 595.43 619.2)" >A96V</text>
<line x1="616.6" y1="608" x2="616.6" y2="616.5" stroke="#000" stroke-width="2" />
<text x="621.1" y="619.2" font-size="12.2" font-weight="bold" text-anchor="end" transform="rotate(-90 621.1 619.2)" >H97L</text>
<text x="40.6" y="465.5" font-size="13.6" font-weight="bold" text-anchor="middle" transform="rotate(-90 40.6 465.5)" >GFP (X-mean)</text>
<rect x="102.1" y="745.49" width="7.8" height="179.81" fill="#919191" stroke="#000" stroke-width="2.5" />
<rect x="123.93" y="822.85" width="7.8" height="102.45" fill="#919191" stroke="#000" stroke-width="2.5" />
<rect x="145.76" y="722" width="7.8" height="203.3" fill="#919191" stroke="#000" stroke-width="2.5" />
<rect x="167.59" y="885.61" width="7.8" height="39.69" fill="#919191" stroke="#000" stroke-width="2.5" />
<rect x="189.42" y="755.06" width="7.8" height="170.24" fill="#919191" stroke="#000" stroke-width="2.5" />
<rect x="211.25" y="859.43" width="7.8" height="65.87" fill="#919191" stroke="#000" stroke-width="2.5" />
<rect x="233.08" y="784.93" width="7.8" height="140.37" fill="#919191" stroke="#000" stroke-width="2.5" />
<rect x="254.91" y="775.03" width="7.8" height="150.27" fill="#919191" stroke="#000" stroke-width="2.5" />
<rect x="276.74" y="767.48" width="7.8" height="157.82" fill="#919191" stroke="#000" stroke-width="2.5" />
<rect x="298.57" y="762.78" width="7.8" height="162.52" fill="#919191" stroke="#000" stroke-width="2.5" />
<path d="M95.2,925.3 V707.3 H313.9 V925.3" fill="none" stroke="#000" stroke-width="1.35" stroke-linejoin="miter"/>
<line x1="89.3" y1="925.3" x2="314.55" y2="925.3" stroke="#000" stroke-width="1.4" />
<line x1="89" y1="757.5" x2="95.2" y2="757.5" stroke="#000" stroke-width="1.3" />
<text x="84.8" y="763.1" font-size="16.2" font-weight="bold" text-anchor="end" >100</text>
<line x1="89" y1="841.4" x2="95.2" y2="841.4" stroke="#000" stroke-width="1.3" />
<text x="84.8" y="847" font-size="16.2" font-weight="bold" text-anchor="end" >50</text>
<line x1="89" y1="925.3" x2="95.2" y2="925.3" stroke="#000" stroke-width="1.3" />
<text x="84.8" y="930.9" font-size="16.2" font-weight="bold" text-anchor="end" >0</text>
<line x1="106" y1="925.3" x2="106" y2="931.4" stroke="#000" stroke-width="1.3" />
<text x="111.5" y="936.4" font-size="15.8" font-weight="bold" text-anchor="end" transform="rotate(-90 111.5 936.4)" >wt</text>
<line x1="127.83" y1="925.3" x2="127.83" y2="931.4" stroke="#000" stroke-width="1.3" />
<text x="133.33" y="936.4" font-size="15.8" font-weight="bold" text-anchor="end" transform="rotate(-90 133.33 936.4)" >G20W</text>
<line x1="149.66" y1="925.3" x2="149.66" y2="931.4" stroke="#000" stroke-width="1.3" />
<text x="155.16" y="936.4" font-size="15.8" font-weight="bold" text-anchor="end" transform="rotate(-90 155.16 936.4)" >A31T</text>
<line x1="171.49" y1="925.3" x2="171.49" y2="931.4" stroke="#000" stroke-width="1.3" />
<text x="176.99" y="936.4" font-size="15.8" font-weight="bold" text-anchor="end" transform="rotate(-90 176.99 936.4)" >I33N</text>
<line x1="193.32" y1="925.3" x2="193.32" y2="931.4" stroke="#000" stroke-width="1.3" />
<text x="198.82" y="936.4" font-size="15.8" font-weight="bold" text-anchor="end" transform="rotate(-90 198.82 936.4)" >I33T</text>
<line x1="215.15" y1="925.3" x2="215.15" y2="931.4" stroke="#000" stroke-width="1.3" />
<text x="220.65" y="936.4" font-size="15.8" font-weight="bold" text-anchor="end" transform="rotate(-90 220.65 936.4)" >G37E</text>
<line x1="236.98" y1="925.3" x2="236.98" y2="931.4" stroke="#000" stroke-width="1.3" />
<text x="242.48" y="936.4" font-size="15.8" font-weight="bold" text-anchor="end" transform="rotate(-90 242.48 936.4)" >D78V</text>
<line x1="258.81" y1="925.3" x2="258.81" y2="931.4" stroke="#000" stroke-width="1.3" />
<text x="264.31" y="936.4" font-size="15.8" font-weight="bold" text-anchor="end" transform="rotate(-90 264.31 936.4)" >Q81R</text>
<line x1="280.64" y1="925.3" x2="280.64" y2="931.4" stroke="#000" stroke-width="1.3" />
<text x="286.14" y="936.4" font-size="15.8" font-weight="bold" text-anchor="end" transform="rotate(-90 286.14 936.4)" >A96P</text>
<line x1="302.47" y1="925.3" x2="302.47" y2="931.4" stroke="#000" stroke-width="1.3" />
<text x="307.97" y="936.4" font-size="15.8" font-weight="bold" text-anchor="end" transform="rotate(-90 307.97 936.4)" >A96V</text>
<text x="48.3" y="816.6" font-size="17.6" font-weight="bold" text-anchor="middle" transform="rotate(-90 48.3 816.6)" >soluble protein (%)</text>
<defs><filter id="bl" x="-30%" y="-150%" width="160%" height="400%"><feGaussianBlur stdDeviation="1.0"/></filter></defs>
<rect x="433.6" y="737" width="61.4" height="31.2" fill="#fbfbfb" stroke="#1a1a1a" stroke-width="1.3" />
<path d="M442.14,751 L454.44,751.3 Q458.4,751.3 458.4,753.5 Q458.4,755.7 454.44,755.7 L442.14,755.6 Q438,755.6 438,753.3 Q438,751 442.14,751 Z" fill="rgb(56,56,56)" filter="url(#bl)"/>
<path d="M473.06,750.7 L483.76,750.6 Q488.8,750.6 488.8,753.4 Q488.8,756.2 483.76,756.2 L473.06,756.1 Q468.2,756.1 468.2,753.4 Q468.2,750.7 473.06,750.7 Z" fill="rgb(30,30,30)" filter="url(#bl)"/>
<text x="423" y="756.5" font-size="15" font-weight="normal" text-anchor="end" >wt</text>
<line x1="495" y1="762.1" x2="500" y2="762.1" stroke="#000" stroke-width="1.2" />
<text x="500.4" y="766.2" font-size="11.6" font-weight="normal" text-anchor="start" >15</text>
<rect x="433.6" y="775.3" width="61.4" height="31" fill="#f9f9f9" stroke="#1a1a1a" stroke-width="1.3" />
<path d="M447.1,785.2 L458.18,787.1 Q461.6,787.1 461.6,789 Q461.6,790.9 458.18,790.9 L447.1,790.2 Q442.6,790.2 442.6,787.7 Q442.6,785.2 447.1,785.2 Z" fill="rgb(25,25,25)" filter="url(#bl)"/>
<path d="M474.2,787.6 L484.88,788 Q489.2,788 489.2,790.4 Q489.2,792.8 484.88,792.8 L474.2,791.6 Q470.6,791.6 470.6,789.6 Q470.6,787.6 474.2,787.6 Z" fill="rgb(81,81,81)" filter="url(#bl)"/>
<text x="423" y="794.7" font-size="15" font-weight="normal" text-anchor="end" >G20W</text>
<line x1="495" y1="802.1" x2="500" y2="802.1" stroke="#000" stroke-width="1.2" />
<text x="500.4" y="806.2" font-size="11.6" font-weight="normal" text-anchor="start" >15</text>
<rect x="433.6" y="813.5" width="61.4" height="31.1" fill="#f8f8f8" stroke="#1a1a1a" stroke-width="1.3" />
<path d="M443.96,828.2 L456.04,828.4 Q460,828.4 460,830.6 Q460,832.8 456.04,832.8 L443.96,832.6 Q440,832.6 440,830.4 Q440,828.2 443.96,828.2 Z" fill="rgb(56,56,56)" filter="url(#bl)"/>
<path d="M473.32,829 L483.7,829.1 Q488.2,829.1 488.2,831.6 Q488.2,834.1 483.7,834.1 L473.32,833.8 Q469,833.8 469,831.4 Q469,829 473.32,829 Z" fill="rgb(25,25,25)" filter="url(#bl)"/>
<text x="423" y="832.95" font-size="15" font-weight="normal" text-anchor="end" >A31T</text>
<line x1="495" y1="840.5" x2="500" y2="840.5" stroke="#000" stroke-width="1.2" />
<text x="500.4" y="844.6" font-size="11.6" font-weight="normal" text-anchor="start" >15</text>
<rect x="433.6" y="852.3" width="61.4" height="31.4" fill="#eeeeee" stroke="#1a1a1a" stroke-width="1.3" />
<path d="M448.2,867.6 L460.58,867.9 Q464,867.9 464,869.8 Q464,871.7 460.58,871.7 L448.2,871.6 Q444.6,871.6 444.6,869.6 Q444.6,867.6 448.2,867.6 Z" fill="rgb(7,7,7)" filter="url(#bl)"/>
<path d="M473.9,868.5 L487.3,868.5 Q490,868.5 490,870 Q490,871.5 487.3,871.5 L473.9,871.5 Q471.2,871.5 471.2,870 Q471.2,868.5 473.9,868.5 Z" fill="rgb(183,183,183)" filter="url(#bl)"/>
<text x="423" y="871.9" font-size="15" font-weight="normal" text-anchor="end" >I33N</text>
<line x1="495" y1="880.2" x2="500" y2="880.2" stroke="#000" stroke-width="1.2" />
<text x="500.4" y="884.3" font-size="11.6" font-weight="normal" text-anchor="start" >15</text>
<rect x="433.6" y="891.1" width="61.4" height="31.3" fill="#efefef" stroke="#1a1a1a" stroke-width="1.3" />
<path d="M448.55,906.9 L458.85,906.9 Q464,906.9 464,910.1 Q464,913.3 458.85,913.3 L448.55,913.3 Q443.4,913.3 443.4,910.1 Q443.4,906.9 448.55,906.9 Z" fill="rgb(0,0,0)" filter="url(#bl)"/>
<path d="M473.7,906.5 L484.3,906.5 Q489.6,906.5 489.6,910 Q489.6,913.5 484.3,913.5 L473.7,913.5 Q468.4,913.5 468.4,910 Q468.4,906.5 473.7,906.5 Z" fill="rgb(0,0,0)" filter="url(#bl)"/>
<text x="423" y="910.65" font-size="15" font-weight="normal" text-anchor="end" >I33T</text>
<line x1="495" y1="920.1" x2="500" y2="920.1" stroke="#000" stroke-width="1.2" />
<text x="500.4" y="924.2" font-size="11.6" font-weight="normal" text-anchor="start" >15</text>
<text x="452.8" y="731.6" font-size="14.5" font-weight="normal" text-anchor="start" transform="rotate(-90 452.8 731.6)" >tot</text>
<text x="479.6" y="731.6" font-size="14.5" font-weight="normal" text-anchor="start" transform="rotate(-90 479.6 731.6)" >sol</text>
<text x="496.4" y="732.2" font-size="10.8" font-weight="normal" text-anchor="start" >kDa</text>
<rect x="581.8" y="737" width="61.5" height="31.2" fill="#fcfcfc" stroke="#1a1a1a" stroke-width="1.3" />
<path d="M591.8,750.4 L601.68,750.4 Q606,750.4 606,752.8 Q606,755.2 601.68,755.2 L591.8,754.4 Q588.2,754.4 588.2,752.4 Q588.2,750.4 591.8,750.4 Z" fill="rgb(7,7,7)" filter="url(#bl)"/>
<path d="M617.06,751.7 L628.94,751.7 Q632,751.7 632,753.4 Q632,755.1 628.94,755.1 L617.06,755.1 Q614,755.1 614,753.4 Q614,751.7 617.06,751.7 Z" fill="rgb(147,147,147)" filter="url(#bl)"/>
<text x="573.6" y="756.5" font-size="15" font-weight="normal" text-anchor="end" >G37E</text>
<line x1="643.3" y1="760.2" x2="648.3" y2="760.2" stroke="#000" stroke-width="1.2" />
<text x="648.7" y="764.3" font-size="11.6" font-weight="normal" text-anchor="start" >15</text>
<rect x="581.8" y="775.3" width="61.5" height="31" fill="#fafafa" stroke="#1a1a1a" stroke-width="1.3" />
<path d="M595.52,790 L604.38,789.9 Q608.8,789.9 608.8,792.4 Q608.8,794.9 604.38,794.9 L595.52,795.2 Q591.1,795.2 591.1,792.6 Q591.1,790 595.52,790 Z" fill="rgb(7,7,7)" filter="url(#bl)"/>
<path d="M621.25,789.1 L630.64,789.8 Q634.6,789.8 634.6,792 Q634.6,794.2 630.64,794.2 L621.25,794.1 Q616.8,794.1 616.8,791.6 Q616.8,789.1 621.25,789.1 Z" fill="rgb(7,7,7)" filter="url(#bl)"/>
<text x="573.6" y="794.7" font-size="15" font-weight="normal" text-anchor="end" >D78V</text>
<line x1="643.3" y1="801.6" x2="648.3" y2="801.6" stroke="#000" stroke-width="1.2" />
<text x="648.7" y="805.7" font-size="11.6" font-weight="normal" text-anchor="start" >15</text>
<rect x="581.8" y="813.5" width="61.5" height="31.1" fill="#f9f9f9" stroke="#1a1a1a" stroke-width="1.3" />
<path d="M592.68,827.4 L602.62,827.4 Q607.6,827.4 607.6,830.4 Q607.6,833.4 602.62,833.4 L592.68,833.4 Q587.7,833.4 587.7,830.4 Q587.7,827.4 592.68,827.4 Z" fill="rgb(25,25,25)" filter="url(#bl)"/>
<path d="M620.74,827.1 L633.38,826.7 Q638.6,826.7 638.6,829.6 Q638.6,832.5 633.38,832.5 L620.74,832.7 Q615.7,832.7 615.7,829.9 Q615.7,827.1 620.74,827.1 Z" fill="rgb(30,30,30)" filter="url(#bl)"/>
<text x="573.6" y="832.95" font-size="15" font-weight="normal" text-anchor="end" >Q81R</text>
<line x1="643.3" y1="841.8" x2="648.3" y2="841.8" stroke="#000" stroke-width="1.2" />
<text x="648.7" y="845.9" font-size="11.6" font-weight="normal" text-anchor="start" >15</text>
<rect x="581.8" y="852.3" width="61.5" height="31.4" fill="#fbfbfb" stroke="#1a1a1a" stroke-width="1.3" />
<path d="M593.55,866 L603.45,865.8 Q608.4,865.8 608.4,868.6 Q608.4,871.4 603.45,871.4 L593.55,871.6 Q588.6,871.6 588.6,868.8 Q588.6,866 593.55,866 Z" fill="rgb(7,7,7)" filter="url(#bl)"/>
<path d="M619.7,864.8 L629.54,864.6 Q634.4,864.6 634.4,867.3 Q634.4,870 629.54,870 L619.7,870.4 Q614.8,870.4 614.8,867.6 Q614.8,864.8 619.7,864.8 Z" fill="rgb(7,7,7)" filter="url(#bl)"/>
<text x="573.6" y="871.9" font-size="15" font-weight="normal" text-anchor="end" >A96V</text>
<line x1="643.3" y1="878.5" x2="648.3" y2="878.5" stroke="#000" stroke-width="1.2" />
<text x="648.7" y="882.6" font-size="11.6" font-weight="normal" text-anchor="start" >15</text>
<rect x="581.8" y="891.1" width="61.5" height="31.3" fill="#fbfbfb" stroke="#1a1a1a" stroke-width="1.3" />
<text x="573.6" y="910.65" font-size="15" font-weight="normal" text-anchor="end" >A96P</text>
<line x1="643.3" y1="919.7" x2="648.3" y2="919.7" stroke="#000" stroke-width="1.2" />
<text x="648.7" y="923.8" font-size="11.6" font-weight="normal" text-anchor="start" >15</text>
<text x="603.8" y="731.6" font-size="14.5" font-weight="normal" text-anchor="start" transform="rotate(-90 603.8 731.6)" >tot</text>
<text x="630" y="731.6" font-size="14.5" font-weight="normal" text-anchor="start" transform="rotate(-90 630 731.6)" >sol</text>
<text x="644.5" y="732.2" font-size="10.8" font-weight="normal" text-anchor="start" >kDa</text>
<path d="M595.4,899.6 C600,898.8 608.4,901.4 612.8,904.0 C615.0,905.6 614.8,910.0 611.4,910.8 C606,911.2 600.2,909.6 597.2,907.0 C594.8,904.8 594.4,901.0 595.4,899.6 Z" fill="#000" filter="url(#bl)"/>
<path d="M618.0,905.8 C625,906.0 634,907.0 638.6,907.6 C640.8,908.4 640.8,912.4 638.6,913.0 C632,913.4 624,913.0 618.8,911.6 C616.4,910.6 616.4,906.6 618.0,905.8 Z" fill="#000" filter="url(#bl)"/>
<text x="0.3" y="12.3" font-size="23" font-weight="bold" text-anchor="start" >a</text>
<text x="-0.8" y="335.5" font-size="23" font-weight="bold" text-anchor="start" >b</text>
<text x="-0.7" y="676.9" font-size="23" font-weight="bold" text-anchor="start" >c</text>
</svg></body></html>
